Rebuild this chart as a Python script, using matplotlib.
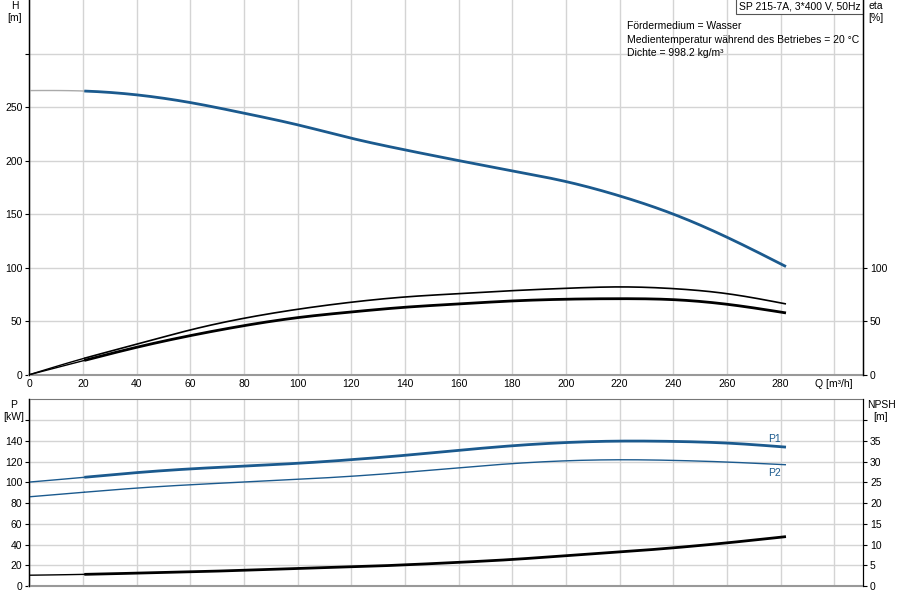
import matplotlib
matplotlib.use("Agg")
import matplotlib.pyplot as plt
import numpy as np

plt.rcParams['font.family'] = ['Liberation Sans', 'DejaVu Sans']
plt.rcParams['font.size'] = 7.5

# flow points [m3/h]
q = [0, 20, 40, 60, 80, 100, 120, 140, 160, 180, 200, 220, 240, 260, 282]

head = [265.4, 265, 261.4, 254.2, 244.3, 233.4, 220.9, 210, 200, 190.4, 180.4, 167, 150, 128.4, 101]
eta_pump = [0, 15, 28.4, 41.8, 52.7, 61.1, 67.7, 72.6, 75.7, 78.5, 80.7, 82, 80.4, 75.7, 66.1]
eta_total = [0, 13, 25.6, 36.5, 45.8, 53.3, 58.6, 63, 66.1, 68.9, 70.5, 71, 70.1, 65.8, 57.7]

p1 = [100.2, 104.7, 109.3, 112.9, 115.6, 118.3, 121.8, 126.0, 130.8, 135.2, 138.3, 139.7, 139.4, 137.8, 133.9]
p2 = [86, 90.3, 94.4, 97.6, 100.2, 102.8, 105.8, 109.6, 114, 118.0, 120.7, 121.7, 121.1, 119.5, 116.9]
npsh = [2.6, 2.8, 3.1, 3.4, 3.8, 4.2, 4.6, 5.1, 5.7, 6.4, 7.3, 8.2, 9.2, 10.4, 11.9]

x_ticks = list(range(0, 301, 20))
x_labels = [str(v) for v in x_ticks[:-1]] + ['Q [m³/h]']

blue = '#1b5a8e'
grid_c = '#d4d4d4'


def spline(x, y, n=400):
    # natural cubic spline through the read points
    x = np.asarray(x, float)
    y = np.asarray(y, float)
    m = len(x)
    h = np.diff(x)
    A = np.zeros((m, m))
    b = np.zeros(m)
    A[0, 0] = A[-1, -1] = 1
    for i in range(1, m - 1):
        A[i, i - 1] = h[i - 1]
        A[i, i] = 2 * (h[i - 1] + h[i])
        A[i, i + 1] = h[i]
        b[i] = 6 * ((y[i + 1] - y[i]) / h[i] - (y[i] - y[i - 1]) / h[i - 1])
    M = np.linalg.solve(A, b)
    xs = np.linspace(x[0], x[-1], n)
    k = np.clip(np.searchsorted(x, xs) - 1, 0, m - 2)
    t0 = x[k + 1] - xs
    t1 = xs - x[k]
    ys = (M[k] * t0 ** 3 + M[k + 1] * t1 ** 3) / (6 * h[k]) \
        + (y[k] / h[k] - M[k] * h[k] / 6) * t0 \
        + (y[k + 1] / h[k] - M[k + 1] * h[k] / 6) * t1
    return xs, ys


def draw(ax, x, y, color, lw_thin, lw_thick, start_color=None):
    xs, ys = spline(x, y)
    first = xs <= 20.5
    ax.plot(xs[first], ys[first], color=start_color or color, lw=lw_thin, zorder=3)
    rest = xs >= 20
    ax.plot(xs[rest], ys[rest], color=color, lw=lw_thick, zorder=3, solid_capstyle='butt')


fig = plt.figure(figsize=(9, 6), dpi=100)
left = 29.3 / 900
width = (863 - 29.3) / 900
x_max = 310.7

ax1 = fig.add_axes([left, 1 - 374.7 / 600, width, 374.7 / 600])
ax2 = fig.add_axes([left, 1 - 586 / 600, width, (586 - 399.3) / 600])

for ax in (ax1, ax2):
    ax.set_xlim(0, x_max)
    ax.set_xticks(x_ticks)
    ax.grid(True, color=grid_c, lw=1)
    ax.set_axisbelow(True)
    ax.spines['bottom'].set_color('#999999')
    ax.spines['bottom'].set_linewidth(1.5)
    ax.spines['left'].set_linewidth(1)
    ax.tick_params(axis='x', length=0, pad=3)
    ax.tick_params(axis='y', length=3, pad=2)

# top chart: head and efficiency
ax1.spines['top'].set_visible(False)
ax1.set_ylim(0, 350)
ax1.set_yticks(range(0, 301, 50))
ax1.set_yticklabels([str(v) for v in range(0, 251, 50)] + [''])
ax1.set_xticklabels(x_labels)

draw(ax1, q, head, blue, 1, 2, start_color='#aaaaaa')
draw(ax1, q, eta_pump, 'black', 1, 1.2)
draw(ax1, q, eta_total, 'black', 1, 2)

ax1r = ax1.twinx()
ax1r.set_ylim(0, 350)
ax1r.set_yticks([0, 50, 100])
ax1r.tick_params(axis='y', length=3, pad=2)
ax1r.spines['top'].set_visible(False)
ax1r.spines['bottom'].set_visible(False)
ax1r.spines['right'].set_linewidth(1)

# bottom chart: power and NPSH
ax2.set_ylim(0, 180)
ax2.set_yticks(range(0, 161, 20))
ax2.set_yticklabels([str(v) for v in range(0, 141, 20)] + [''])
ax2.set_xticklabels([])
ax2.spines['top'].set_color('#777777')

draw(ax2, q, p1, blue, 1, 2)
draw(ax2, q, p2, blue, 1, 1)

ax2r = ax2.twinx()
ax2r.set_ylim(0, 45)
ax2r.set_yticks(range(0, 41, 5))
ax2r.set_yticklabels([str(v) for v in range(0, 36, 5)] + [''])
ax2r.tick_params(axis='y', length=3, pad=2)
ax2r.spines['top'].set_visible(False)
ax2r.spines['bottom'].set_visible(False)
draw(ax2r, q, npsh, 'black', 1, 2)

ax2.text(q[-1] - 2, p1[-1] + 3, 'P1', color=blue, ha='right', va='bottom')
ax2.text(q[-1] - 2, p2[-1] - 3, 'P2', color=blue, ha='right', va='top')

# axis titles
fig.text(15 / 900, 1 - 1 / 600, 'H\n[m]', ha='center', va='top', linespacing=1.2)
fig.text(876 / 900, 1 - 1 / 600, 'eta\n[%]', ha='center', va='top', linespacing=1.2)
fig.text(14 / 900, 1 - 400 / 600, 'P\n[kW]', ha='center', va='top', linespacing=1.2)
fig.text(881 / 900, 1 - 400 / 600, 'NPSH\n[m]', ha='center', va='top', linespacing=1.2)

# info
ax1.text(0.997, 0.997, 'SP 215-7A, 3*400 V, 50Hz', transform=ax1.transAxes,
         ha='right', va='top',
         bbox=dict(facecolor='white', edgecolor='#555555', lw=0.8, pad=2))
fig.text(627 / 900, 1 - 21 / 600,
         'Fördermedium = Wasser\nMedientemperatur während des Betriebes = 20 °C\nDichte = 998.2 kg/m³',
         ha='left', va='top', linespacing=1.45)

fig.savefig('out.png', dpi=100)
